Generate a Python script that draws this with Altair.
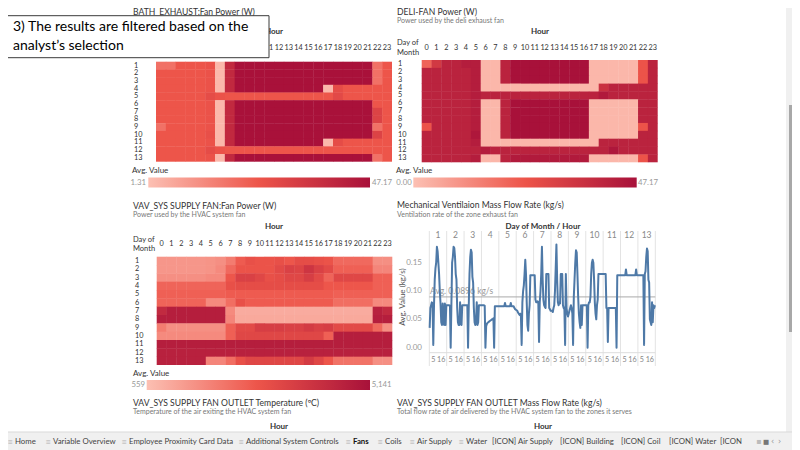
import altair as alt
import pandas as pd

FONT = "Lato"
DAYS = list(range(1, 14))
HOURS = list(range(24))

# ---- heat map values: rows = day of month 1..13, columns = hour 0..23 ----
BATH = [
    [18, 18, 24, 24, 24, 25, 3, 39, 47, 47, 47, 47, 47, 47, 47, 47, 47, 47, 47, 47, 47, 47, 18, 24],
    [24, 24, 24, 24, 24, 25, 3, 39, 47, 47, 47, 47, 47, 47, 47, 47, 47, 47, 47, 47, 47, 47, 18, 24],
    [24, 24, 24, 24, 24, 25, 3, 39, 47, 47, 47, 47, 47, 47, 47, 47, 47, 47, 47, 47, 47, 47, 18, 24],
    [24, 24, 24, 24, 24, 25, 3, 39, 47, 47, 47, 47, 47, 47, 47, 47, 47, 3, 27, 24, 24, 24, 24, 24],
    [24, 24, 24, 24, 24, 27, 25, 24, 24, 24, 24, 24, 24, 24, 24, 24, 24, 24, 28, 24, 24, 24, 24, 24],
    [24, 24, 24, 24, 24, 25, 3, 39, 47, 47, 47, 47, 47, 47, 47, 47, 47, 47, 47, 47, 47, 47, 24, 24],
    [24, 24, 24, 24, 24, 25, 3, 39, 47, 47, 47, 47, 47, 47, 47, 47, 47, 47, 47, 47, 47, 47, 30, 24],
    [24, 24, 24, 24, 24, 25, 3, 39, 47, 47, 47, 47, 47, 47, 47, 47, 47, 47, 47, 47, 47, 47, 30, 24],
    [18, 24, 24, 24, 24, 25, 3, 39, 47, 47, 47, 47, 47, 47, 47, 47, 47, 47, 47, 47, 47, 47, 18, 24],
    [24, 24, 24, 24, 24, 26, 3, 39, 47, 47, 47, 47, 47, 47, 47, 47, 47, 47, 47, 47, 47, 47, 30, 24],
    [24, 24, 24, 24, 24, 25, 3, 39, 47, 47, 47, 47, 47, 47, 47, 47, 47, 3, 27, 24, 24, 24, 24, 24],
    [24, 24, 24, 24, 24, 27, 25, 24, 24, 24, 24, 24, 24, 24, 24, 24, 24, 24, 24, 24, 24, 24, 24, 24],
    [24, 24, 24, 24, 24, 25, 3, 39, 47, 47, 47, 47, 47, 47, 47, 47, 47, 47, 47, 47, 47, 47, 18, 24],
]
DELI = [
    [20, 33, 41, 41, 43, 43, 2, 2, 41, 47, 47, 47, 47, 47, 47, 47, 47, 2, 2, 2, 2, 2, 24, 41],
    [41, 41, 41, 41, 41, 43, 2, 2, 41, 47, 47, 47, 47, 47, 47, 47, 47, 2, 2, 2, 2, 2, 24, 41],
    [41, 41, 41, 41, 41, 43, 2, 2, 41, 47, 47, 47, 47, 47, 47, 47, 47, 2, 2, 2, 2, 2, 24, 41],
    [41, 41, 41, 41, 41, 43, 2, 2, 2, 2, 2, 2, 2, 2, 2, 2, 2, 2, 36, 41, 41, 41, 41, 41],
    [41, 41, 41, 41, 41, 43, 41, 41, 41, 41, 41, 41, 41, 41, 41, 41, 41, 41, 44, 41, 41, 41, 41, 41],
    [41, 41, 41, 41, 41, 43, 2, 2, 41, 47, 47, 47, 47, 47, 47, 47, 47, 2, 2, 2, 2, 2, 41, 41],
    [41, 41, 41, 41, 41, 43, 2, 2, 41, 47, 47, 47, 47, 47, 47, 47, 47, 2, 2, 2, 2, 2, 41, 41],
    [41, 41, 41, 41, 41, 43, 2, 2, 41, 47, 47, 47, 47, 47, 47, 47, 47, 2, 2, 2, 2, 2, 41, 41],
    [24, 41, 41, 41, 41, 43, 2, 2, 41, 47, 47, 47, 47, 47, 47, 47, 47, 2, 2, 2, 2, 2, 24, 41],
    [41, 41, 41, 41, 41, 45, 2, 2, 41, 47, 47, 47, 47, 47, 47, 47, 47, 2, 2, 2, 2, 2, 41, 41],
    [41, 41, 41, 41, 41, 43, 2, 2, 2, 2, 2, 2, 2, 2, 2, 2, 2, 2, 41, 41, 41, 41, 41, 41],
    [41, 41, 41, 41, 41, 41, 43, 41, 41, 41, 41, 41, 41, 41, 41, 41, 41, 41, 41, 45, 41, 41, 41, 41],
    [41, 41, 41, 41, 41, 43, 2, 2, 41, 44, 44, 44, 44, 44, 44, 44, 44, 2, 2, 2, 2, 2, 24, 41],
]
VAV = [
    [1450, 1450, 1450, 1450, 1450, 1500, 1600, 2000, 2700, 3000, 2900, 2900, 3000, 2800, 3100, 3100, 3000, 2900, 2400, 2400, 2400, 2400, 1600, 1600],
    [1450, 1450, 1450, 1450, 1450, 1500, 1700, 2400, 2900, 2900, 2900, 2900, 3200, 3500, 3400, 3900, 3500, 3200, 2600, 2600, 2600, 2600, 1800, 1800],
    [1600, 1600, 1600, 1600, 1600, 1700, 1700, 2800, 3500, 3500, 3300, 3000, 3100, 3300, 3300, 3600, 3200, 2500, 3300, 3300, 3300, 3300, 2600, 2600],
    [2500, 2500, 2500, 2500, 2500, 2500, 2500, 3000, 3100, 3100, 3100, 3100, 3100, 3100, 3100, 3100, 3100, 2800, 2800, 2800, 2800, 2800, 2600, 2600],
    [2600, 2600, 2600, 2600, 2600, 2600, 2600, 2700, 2700, 2700, 2700, 2700, 2700, 2700, 2700, 2700, 2700, 2700, 2600, 2600, 2600, 2600, 2600, 2600],
    [2500, 2500, 2500, 2500, 2500, 1700, 1700, 2300, 3000, 2700, 2700, 2700, 2700, 2700, 2700, 2700, 2700, 2700, 2300, 2300, 2300, 2300, 1700, 1700],
    [4300, 4700, 4700, 4700, 4700, 4700, 4700, 1700, 1000, 1000, 1000, 1000, 1000, 1000, 1000, 1000, 1000, 1000, 1000, 1000, 1000, 1000, 4600, 4300],
    [4700, 4700, 4700, 4700, 4700, 4700, 4700, 1800, 1050, 1050, 1050, 1050, 1050, 1050, 1050, 1050, 1050, 1050, 1050, 1050, 1050, 1050, 4700, 4700],
    [2000, 1600, 1600, 1600, 1600, 1600, 1600, 2600, 3200, 3200, 3600, 3600, 3600, 3500, 3500, 3700, 3500, 3600, 3200, 3200, 3200, 3200, 2400, 1600],
    [1700, 1700, 1700, 1700, 1700, 1700, 1700, 2600, 3300, 3300, 3300, 3300, 3300, 3300, 3300, 3300, 3300, 2600, 4700, 4700, 4700, 4700, 4700, 4700],
    [4700, 4700, 4700, 4700, 4700, 4700, 4700, 4700, 4700, 4700, 4700, 4700, 4700, 4700, 4700, 4700, 4700, 4700, 4700, 4700, 4700, 4700, 4700, 4700],
    [4600, 4600, 4600, 4600, 4600, 4600, 4600, 4600, 4600, 4600, 4600, 4600, 4600, 4600, 4600, 4600, 4600, 4600, 4600, 4600, 4600, 4600, 4600, 4600],
    [4600, 4600, 4600, 4600, 4600, 1800, 1800, 2300, 3000, 3300, 3300, 3300, 3300, 3300, 3300, 3700, 3300, 2800, 2200, 2200, 2200, 2200, 1600, 1600],
]
BATH_RANGE = [1.31, 47.17]
DELI_RANGE = [0.00, 47.17]
VAV_RANGE = [559, 5141]
BATH_LABELS = ["1.31", "47.17"]
DELI_LABELS = ["0.00", "47.17"]
VAV_LABELS = ["559", "5,141"]

# ---- mechanical ventilation mass flow rate (kg/s), per day, hours 0..23 ----
VENT = [
    [0.035, 0.070, 0.075, 0.080, 0.078, 0.005, 0.075, 0.120, 0.140, 0.150, 0.178, 0.170, 0.150, 0.130, 0.100, 0.078, 0.045, 0.040, 0.078, 0.045, 0.040, 0.078, 0.040, 0.075],
    [0.075, 0.075, 0.075, 0.075, 0.074, 0.000, 0.075, 0.150, 0.160, 0.178, 0.176, 0.160, 0.130, 0.120, 0.070, 0.045, 0.040, 0.040, 0.080, 0.045, 0.040, 0.075, 0.075, 0.075],
    [0.075, 0.075, 0.075, 0.075, 0.075, 0.000, 0.075, 0.130, 0.160, 0.173, 0.168, 0.125, 0.115, 0.070, 0.045, 0.040, 0.045, 0.080, 0.040, 0.045, 0.075, 0.075, 0.075, 0.075],
    [0.075, 0.075, 0.075, 0.075, 0.074, 0.000, 0.038, 0.042, 0.044, 0.045, 0.046, 0.047, 0.048, 0.049, 0.050, 0.050, 0.052, 0.000, 0.073, 0.073, 0.073, 0.073, 0.073, 0.073],
    [0.073, 0.073, 0.073, 0.073, 0.073, 0.073, 0.073, 0.073, 0.079, 0.073, 0.073, 0.073, 0.073, 0.073, 0.073, 0.073, 0.079, 0.073, 0.073, 0.073, 0.073, 0.070, 0.068, 0.067],
    [0.066, 0.065, 0.062, 0.060, 0.058, 0.060, 0.055, 0.005, 0.080, 0.100, 0.110, 0.130, 0.155, 0.130, 0.080, 0.040, 0.030, 0.060, 0.075, 0.128, 0.128, 0.128, 0.128, 0.128],
    [0.128, 0.128, 0.085, 0.080, 0.080, 0.082, 0.080, 0.010, 0.080, 0.100, 0.130, 0.178, 0.120, 0.085, 0.075, 0.072, 0.070, 0.130, 0.130, 0.130, 0.130, 0.070, 0.068, 0.065],
    [0.065, 0.065, 0.063, 0.070, 0.075, 0.100, 0.140, 0.182, 0.120, 0.080, 0.075, 0.080, 0.078, 0.130, 0.130, 0.130, 0.075, 0.070, 0.068, 0.005, 0.130, 0.070, 0.060, 0.055],
    [0.060, 0.065, 0.070, 0.075, 0.070, 0.060, 0.005, 0.090, 0.120, 0.150, 0.172, 0.168, 0.130, 0.090, 0.060, 0.045, 0.035, 0.075, 0.040, 0.075, 0.075, 0.075, 0.075, 0.075],
    [0.075, 0.075, 0.000, 0.075, 0.080, 0.080, 0.090, 0.130, 0.150, 0.155, 0.150, 0.120, 0.080, 0.060, 0.050, 0.075, 0.085, 0.130, 0.130, 0.130, 0.130, 0.130, 0.130, 0.130],
    [0.130, 0.130, 0.130, 0.130, 0.070, 0.070, 0.010, 0.070, 0.070, 0.070, 0.070, 0.070, 0.070, 0.070, 0.070, 0.070, 0.070, 0.070, 0.000, 0.128, 0.128, 0.128, 0.128, 0.128],
    [0.128, 0.128, 0.128, 0.128, 0.128, 0.128, 0.128, 0.138, 0.128, 0.128, 0.128, 0.128, 0.128, 0.128, 0.128, 0.128, 0.128, 0.128, 0.128, 0.128, 0.128, 0.138, 0.128, 0.128],
    [0.128, 0.128, 0.128, 0.128, 0.128, 0.128, 0.128, 0.128, 0.005, 0.130, 0.135, 0.160, 0.175, 0.170, 0.120, 0.115, 0.050, 0.045, 0.040, 0.080, 0.045, 0.075, 0.070, 0.075],
]
VENT_AVG = 0.0896
Y_TICKS = [0.00, 0.05, 0.10, 0.15]
HOUR_TICKS = [5, 16]

TABS = ["Home", "Variable Overview", "Employee Proximity Card Data", "Additional System Controls",
        "Fans", "Coils", "Air Supply", "Water", "[ICON] Air Supply", "[ICON] Building",
        "[ICON] Coil", "[ICON] Water", "[ICON"]

RED = ["#fcc0b3", "#ed5449", "#a8113a"]
W, H = 784, 442


def P(v):
    """page pixel -> chart pixel (8px page margin)"""
    return v - 8


def txt(s, x, y, size=9, color="#333333", weight="normal", align="left",
        baseline="middle", angle=0, font=FONT):
    kw = dict(align=align, baseline=baseline, fontSize=size, color=color,
              fontWeight=weight, font=font)
    if angle:
        kw["angle"] = angle
    return alt.Chart(pd.DataFrame({"s": [s]})).mark_text(**kw).encode(
        x=alt.value(P(x)), y=alt.value(P(y)), text="s:N")


def box(x0, y0, x1, y1, fill, stroke=None, sw=1):
    kw = dict(fill=fill)
    if stroke:
        kw.update(stroke=stroke, strokeWidth=sw)
    return alt.Chart(pd.DataFrame({"a": [0]})).mark_rect(**kw).encode(
        x=alt.value(P(x0)), x2=alt.value(P(x1)), y=alt.value(P(y0)), y2=alt.value(P(y1)))


def heatmap(m, dom, x0, x1, y0, y1, col_y, row_x, lg_x, lg_y, lg_len):
    df = pd.DataFrame([{"day": d, "hour": h, "v": m[d - 1][h]} for d in DAYS for h in HOURS])
    # continuous cell scales (hour 0..24 across, day 1..14 down); cells overlap a hair to avoid seams
    xs = alt.Scale(domain=[0, len(HOURS)], range=[P(x0), P(x1)], nice=False, zero=False)
    ys = alt.Scale(domain=[DAYS[0], DAYS[-1] + 1], range=[P(y0), P(y1)], nice=False, zero=False)
    cs = alt.Scale(domain=dom, range=RED, interpolate="rgb")
    rect = alt.Chart(df).transform_calculate(
        h2=f"min(datum.hour + 1.04, {len(HOURS)})",
        d2=f"min(datum.day + 1.05, {DAYS[-1] + 1})",
    ).mark_rect().encode(
        x=alt.X("hour:Q", scale=xs, axis=None), x2="h2:Q",
        y=alt.Y("day:Q", scale=ys, axis=None), y2="d2:Q",
        color=alt.Color("v:Q", scale=cs, legend=alt.Legend(
            type="gradient", orient="none", legendX=P(lg_x), legendY=P(lg_y),
            direction="horizontal", gradientLength=lg_len, gradientThickness=10,
            title=None, labelOpacity=0, labelFontSize=1, gradientStrokeWidth=0)),
    )
    cols = alt.Chart(pd.DataFrame({"hour": HOURS})).transform_calculate(
        c="datum.hour + 0.5").mark_text(
        fontSize=7.3, color="#333333", font=FONT, baseline="middle").encode(
        x=alt.X("c:Q", scale=xs, axis=None), y=alt.value(P(col_y)), text="hour:N")
    rows = alt.Chart(pd.DataFrame({"day": DAYS})).transform_calculate(
        r="datum.day + 0.5").mark_text(
        fontSize=7.3, color="#333333", font=FONT, align="left", baseline="middle").encode(
        y=alt.Y("r:Q", scale=ys, axis=None), x=alt.value(P(row_x)), text="day:N")
    return alt.layer(rect, cols, rows)


h1 = heatmap(BATH, BATH_RANGE, 156, 392, 61.7, 161.7, 48, 134, 148.3, 177.5, 221.7)
h2 = heatmap(DELI, DELI_RANGE, 421.7, 657.7, 60, 162.3, 48, 398, 413.3, 177.5, 223.4)
h3 = heatmap(VAV, VAV_RANGE, 156.7, 392.3, 256.7, 365, 244, 135, 146.7, 380, 223.3)

# ---- line chart ----
vent_df = pd.DataFrame([{"day": d, "hour": h, "t": (d - 1) * 24 + h + 0.5, "v": VENT[d - 1][h]}
                        for d in DAYS for h in HOURS])
LX0, LX1, LY0, LY1 = 429.3, 655.3, 238.3, 352.7
lx = alt.Scale(domain=[0, 24 * len(DAYS)], range=[P(LX0), P(LX1)], nice=False, zero=False)
ly = alt.Scale(domain=[-0.0088, 0.193], range=[P(LY1), P(LY0)], nice=False, zero=False)

sep = alt.Chart(pd.DataFrame({"b": [(d - 1) * 24 for d in DAYS + [DAYS[-1] + 1]]})).mark_rule(
    color="#e3e3e3", strokeWidth=1).encode(
    x=alt.X("b:Q", scale=lx, axis=None), y=alt.value(P(231)), y2=alt.value(P(366)))
base_line = alt.Chart(pd.DataFrame({"z": [0]})).mark_rule(color="#dddddd").encode(
    x=alt.value(P(LX0)), x2=alt.value(P(LX1)), y=alt.value(P(LY1)))
day_lbl = alt.Chart(pd.DataFrame({"day": DAYS, "c": [(d - 1) * 24 + 12 for d in DAYS]})).mark_text(
    fontSize=8.5, color="#888888", font=FONT, baseline="middle").encode(
    x=alt.X("c:Q", scale=lx, axis=None), y=alt.value(P(234.5)), text="day:N")
hr_df = pd.DataFrame([{"t": (d - 1) * 24 + h + 0.5, "h": h} for d in DAYS for h in HOUR_TICKS])
hr_lbl = alt.Chart(hr_df).mark_text(fontSize=7.2, color="#888888", font=FONT, baseline="middle").encode(
    x=alt.X("t:Q", scale=lx, axis=None), y=alt.value(P(360)), text="h:N")
ytk = alt.Chart(pd.DataFrame({"v": Y_TICKS})).mark_text(
    fontSize=8, color="#999999", font=FONT, align="right", baseline="middle").encode(
    y=alt.Y("v:Q", scale=ly, axis=None), x=alt.value(P(422)), text=alt.Text("v:Q", format=".2f"))
avg_rule = alt.Chart(pd.DataFrame({"a": [VENT_AVG]})).mark_rule(color="#aaaaaa", strokeWidth=1).encode(
    y=alt.Y("a:Q", scale=ly, axis=None), x=alt.value(P(LX0)), x2=alt.value(P(LX1)))
avg_txt = alt.Chart(pd.DataFrame({"a": [VENT_AVG], "s": ["Avg. 0.0896 kg/s"]})).mark_text(
    fontSize=8.5, color="#999999", font=FONT, align="left", baseline="bottom", dy=-0.5).encode(
    y=alt.Y("a:Q", scale=ly, axis=None), x=alt.value(P(430)), text="s:N")
line = alt.Chart(vent_df).mark_line(color="#4e79a7", strokeWidth=2, strokeJoin="round").encode(
    x=alt.X("t:Q", scale=lx, axis=None), y=alt.Y("v:Q", scale=ly, axis=None), order="t:Q")
line_chart = alt.layer(sep, base_line, day_lbl, hr_lbl, ytk, avg_rule, avg_txt, line)

# ---- texts ----
T = "#333333"
S = "#777777"
TS = 8.6   # title size
SS = 7     # subtitle size
texts = [
    txt("BATH_EXHAUST:Fan Power (W)", 133, 11.5, TS, T),
    txt("Hour", 274, 32, 8, T, "bold", "center"),
    txt("Day of", 133, 43, 7.5, T), txt("Month", 133, 52, 7.5, T),
    txt("Avg. Value", 132, 171, 8, T),
    txt(BATH_LABELS[0], 146, 182.5, 7.8, "#999999", align="right"),
    txt(BATH_LABELS[1], 372, 182.5, 7.8, "#999999"),

    txt("DELI-FAN Power (W)", 397, 11.5, TS, T),
    txt("Power used by the deli exhaust fan", 397, 20.5, SS, S),
    txt("Hour", 540, 32, 8, T, "bold", "center"),
    txt("Day of", 397, 43, 7.5, T), txt("Month", 397, 52.5, 7.5, T),
    txt("Avg. Value", 396, 171, 8, T),
    txt(DELI_LABELS[0], 411.7, 182.5, 7.8, "#999999", align="right"),
    txt(DELI_LABELS[1], 638, 182.5, 7.8, "#999999"),

    txt("VAV_SYS SUPPLY FAN:Fan Power (W)", 133, 205.5, TS, T),
    txt("Power used by the HVAC system fan", 133, 214.5, SS, S),
    txt("Hour", 274, 227, 8, T, "bold", "center"),
    txt("Day of", 133, 239.5, 7.5, T), txt("Month", 133, 249, 7.5, T),
    txt("Avg. Value", 133, 373.5, 8, T),
    txt(VAV_LABELS[0], 145, 385, 7.8, "#999999", align="right"),
    txt(VAV_LABELS[1], 371.7, 385, 7.8, "#999999"),

    txt("Mechanical Ventilaion Mass Flow Rate  (kg/s)", 397, 205, TS, T),
    txt("Ventilation rate of the zone exhaust fan", 397, 214.5, SS, S),
    txt("Day of Month  /  Hour", 543, 226.5, 8, T, "bold", "center"),
    txt("Avg. Value (kg/s)", 402.5, 297, 8, "#555555", align="center", angle=270),

    txt("VAV_SYS SUPPLY FAN OUTLET Temperature (\u00baC)", 133, 402.5, TS, T),
    txt("Temperature of the air exiting the HVAC system fan", 133, 412, SS, S),
    txt("Hour", 279, 427, 8, T, "bold", "center"),
    txt("VAV_SYS SUPPLY FAN OUTLET Mass Flow Rate (kg/s)", 397, 402.5, TS, T),
    txt("Total flow rate of air delivered by the HVAC system fan to the zones it serves", 397, 412, SS, S),
    txt("Hour", 543, 427, 8, T, "bold", "center"),
]

# ---- annotation box ----
note = [
    box(7, 15.7, 269, 57.7, "#ffffff", "#3a3a3a", 1),
    txt("3) The results are filtered based on the", 13, 27, 14, "#000000"),
    txt("analyst\u2019s selection", 13, 46, 14, "#000000"),
]

# ---- scroll bar ----
scroll = [box(786, 0, 800, 432, "#f0f0f0"), box(789, 105, 800, 332, "#a8a8a8")]

# ---- tab bar ----
tab_x = [15, 53, 129, 246, 353, 385, 417, 466, 492, 560, 621, 669, 720]
tab_icon = [True, True, True, True, True, True, True, True, False, False, False, False, False]
tabs = [box(0, 432, 800, 450, "#f0f0f0"),
        alt.Chart(pd.DataFrame({"a": [0]})).mark_rule(color="#d9d9d9").encode(
            x=alt.value(0), x2=alt.value(W), y=alt.value(P(432)))]
for i, name in enumerate(TABS):
    tabs.append(txt(name, tab_x[i], 441.5, 7.8, "#444444" if name != "Fans" else "#111111",
                    "bold" if name == "Fans" else "normal"))
    if tab_icon[i]:
        tabs.append(txt("\u2261", tab_x[i] - 2, 441.5, 6.5, "#b0b0b0", align="right",
                        font="DejaVu Sans"))
tabs += [txt("\u25aa", 756, 442, 8, "#bbbbbb", font="DejaVu Sans"),
         txt("\u25a0", 763, 442, 6.5, "#777777", font="DejaVu Sans"),
         txt("\u2039", 771, 442, 8, "#999999", font="DejaVu Sans"),
         txt("\u203a", 778, 442, 8, "#999999", font="DejaVu Sans")]

chart = alt.layer(h1, h2, h3, line_chart, *texts, *note, *scroll, *tabs).resolve_scale(
    x="independent", y="independent", color="independent"
).properties(
    width=W, height=H, padding=0, autosize=alt.AutoSizeParams(type="none"),
    background="#ffffff",
).configure_view(strokeWidth=0)

chart.save("out.html", embed_options={"renderer": "svg", "actions": False})
